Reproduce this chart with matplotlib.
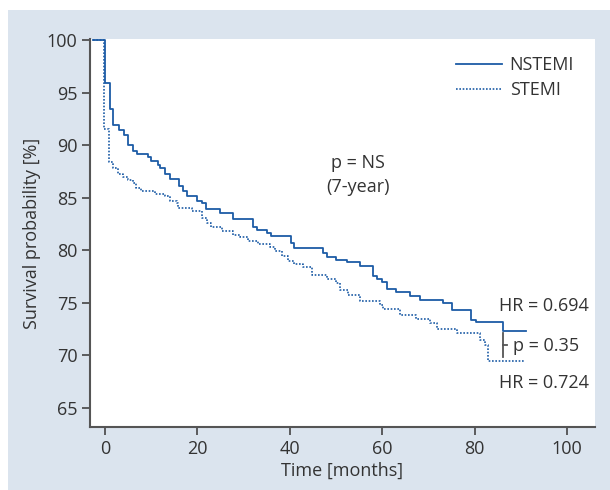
import matplotlib.pyplot as plt
from matplotlib.patches import Rectangle
from matplotlib.lines import Line2D

plt.rcParams['font.family'] = ['Open Sans', 'DejaVu Sans']

# Kaplan-Meier steps (time in months, survival in %)
nstemi_t = [-2.5, -0.1, 1.1, 1.7, 3.0, 4.1, 5.0, 6.0, 7.0, 9.2, 10.0, 11.4, 11.9,
            13.0, 14.1, 16.0, 16.9, 17.8, 19.9, 20.9, 21.8, 24.9, 27.6, 32.0,
            32.8, 35.1, 35.9, 40.2, 40.9, 47.1, 48.0, 50.1, 52.3, 55.2, 57.9,
            58.8, 59.9, 61.0, 63.0, 66.1, 68.2, 73.2, 75.2, 79.2, 80.3, 86.1, 91.2]
nstemi_s = [100, 95.9, 93.4, 91.9, 91.4, 91.0, 90.0, 89.4, 89.15, 88.9, 88.45, 88.1,
            87.8, 87.25, 86.75, 86.15, 85.6, 85.2, 84.7, 84.5, 83.9, 83.5, 83.0,
            82.25, 81.9, 81.6, 81.4, 80.65, 80.25, 79.7, 79.4, 79.1, 78.85, 78.5,
            77.55, 77.3, 77.0, 76.3, 76.05, 75.65, 75.3, 75.0, 74.3, 73.4, 73.2,
            72.35, 72.35]

stemi_t = [-2.5, -0.2, 0.9, 1.8, 2.9, 4.0, 5.0, 6.0, 6.7, 7.7, 10.8, 13.0, 14.1,
           15.5, 15.9, 18.8, 20.9, 22.0, 22.9, 25.3, 27.8, 29.2, 31.0, 33.2, 35.7,
           36.8, 38.4, 39.7, 40.8, 42.9, 44.8, 48.0, 50.1, 50.9, 52.7, 55.2, 59.5,
           60.2, 63.9, 67.3, 70.3, 71.8, 76.1, 81.2, 82.3, 83.0, 90.9]
stemi_s = [100, 91.5, 88.4, 87.8, 87.3, 87.0, 86.7, 86.4, 85.9, 85.6, 85.35, 85.2,
           84.7, 84.5, 84.0, 83.7, 83.1, 82.6, 82.2, 81.8, 81.45, 81.3, 80.9, 80.6,
           80.3, 79.9, 79.45, 79.0, 78.7, 78.4, 77.6, 77.3, 76.85, 76.2, 75.7, 75.2,
           74.8, 74.4, 73.8, 73.5, 73.1, 72.5, 72.15, 71.45, 71.0, 69.5, 69.5]

xticks = [0, 20, 40, 60, 80, 100]
yticks = [65, 70, 75, 80, 85, 90, 95, 100]

blue = '#1d5ca6'
bg = '#dbe4ee'
dark = '#333333'
fs = 13

fig = plt.figure(figsize=(6.1, 4.9), dpi=100)
fig.add_artist(Rectangle((8 / 610, 0), 1, 480 / 490, transform=fig.transFigure,
                         facecolor=bg, edgecolor='none', zorder=-10))
ax = fig.add_axes([90 / 610, 63 / 490, 505 / 610, 388 / 490])
ax.set_facecolor('white')

ax.step(nstemi_t, nstemi_s, where='post', color=blue, lw=1.3)
ax.step(stemi_t, stemi_s, where='post', color=blue, lw=1.2, linestyle=(0, (1, 1)))

ax.set_xlim(-3.25, 106.06)
ax.set_ylim(63.18, 100.1)
ax.set_xticks(xticks)
ax.set_yticks(yticks)
ax.tick_params(direction='out', length=6, width=1.2, color='#444444',
               labelsize=fs, labelcolor=dark, pad=3)
for side in ['top', 'right']:
    ax.spines[side].set_visible(False)
for side in ['left', 'bottom']:
    ax.spines[side].set_color('#555555')
    ax.spines[side].set_linewidth(1.5)

ax.set_xlabel('Time [months]', fontsize=fs, color=dark, labelpad=3)
ax.set_ylabel('Survival probability [%]', fontsize=fs, color=dark, labelpad=4)

ax.text(54.8, 88.3, 'p = NS', ha='center', va='center', fontsize=fs, color=dark)
ax.text(54.8, 86.0, '(7-year)', ha='center', va='center', fontsize=fs, color=dark)

ax.text(104.8, 74.7, 'HR = 0.694', ha='right', va='center', fontsize=fs, color=dark)
ax.text(104.8, 67.4, 'HR = 0.724', ha='right', va='center', fontsize=fs, color=dark)
ax.text(88.3, 70.85, 'p = 0.35', ha='left', va='center', fontsize=fs, color=dark)
ax.plot([86.2, 86.2], [72.1, 69.87], color='#555555', lw=1.3)
ax.plot([86.2, 87.0], [70.98, 70.98], color='#555555', lw=1.3)

handles = [Line2D([], [], color=blue, lw=1.3),
           Line2D([], [], color=blue, lw=1.2, linestyle=(0, (1, 1)))]
ax.legend(handles, ['NSTEMI', 'STEMI'], loc='upper right', frameon=False,
          fontsize=fs, handlelength=2.5, handletextpad=0.45, labelspacing=0.4,
          bbox_to_anchor=(0.98, 0.984), borderaxespad=0.2, labelcolor=dark)

fig.savefig('out.png', dpi=100, facecolor='white')
